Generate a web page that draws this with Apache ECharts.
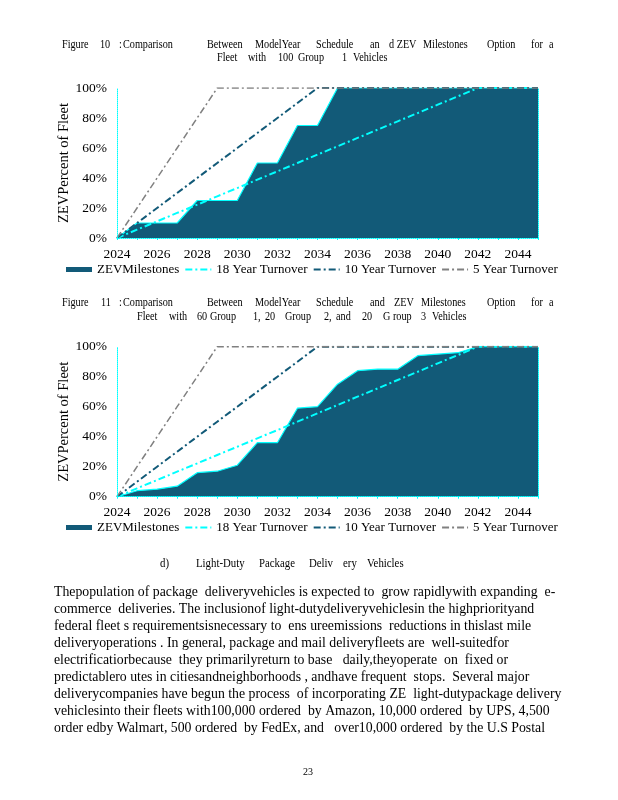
<!DOCTYPE html>
<html><head><meta charset="utf-8">
<script src="https://cdn.jsdelivr.net/npm/echarts@6/dist/echarts.min.js"></script>
<style>html,body{margin:0;padding:0;background:#fff}#c{width:618px;height:800px}</style>
</head><body><div id="c"></div>
<script>
// ---- data ----
const years = ['2024','2025','2026','2027','2028','2029','2030','2031','2032','2033','2034',
               '2035','2036','2037','2038','2039','2040','2041','2042','2043','2044','2045'];
const zevMilestonesFig10 = [0,10,10,10,25,25,25,50,50,75,75,100,100,100,100,100,100,100,100,100,100,100];
const zevMilestonesFig11 = [0,4,5,7,16,17,21,36,36,59,60,75,84,85,85,94,95,96,100,100,100,100];
const turnover18 = [0,5.6,11.1,16.7,22.2,27.8,33.3,38.9,44.4,50,55.6,61.1,66.7,72.2,77.8,83.3,88.9,94.4,100,100,100,100];
const turnover10 = [0,10,20,30,40,50,60,70,80,90,100,100,100,100,100,100,100,100,100,100,100,100];
const turnover5  = [0,20,40,60,80,100,100,100,100,100,100,100,100,100,100,100,100,100,100,100,100,100];
const seriesNames = ['ZEVMilestones','18 Year Turnover','10 Year Turnover','5 Year Turnover'];
const yAxisTitle = 'ZEVPercent of Fleet';

// ---- page text ----
const fig10Line1 = [['Figure',62],['10',100],[':',119],['Comparison',123],['Between',207],['ModelYear',255],['Schedule',316],['an',370],['d ZEV',389],['Milestones',423],['Option',487],['for',531],['a',549]];
const fig10Line2 = [['Fleet',217],['with',248],['100',278],['Group',298],['1',342],['Vehicles',353]];
const fig11Line1 = [['Figure',62],['11',101],[':',119],['Comparison',123],['Between',207],['ModelYear',255],['Schedule',316],['and',370],['ZEV',394],['Milestones',421],['Option',487],['for',531],['a',549]];
const fig11Line2 = [['Fleet',137],['with',169],['60',197],['Group',210],['1,',253],['20',265],['Group',285],['2,',324],['and',336],['20',362],['G roup',383],['3',421],['Vehicles',432]];
const headingWords = [['d)',160],['Light-Duty',196],['Package',259],['Deliv',309],['ery',343],['Vehicles',367]];
const bodyLines = [
 'Thepopulation of package  deliveryvehicles is expected to  grow rapidlywith expanding  e-',
 'commerce  deliveries. The inclusionof light-dutydeliveryvehiclesin the highpriorityand',
 'federal fleet s requirementsisnecessary to  ens ureemissions  reductions in thislast mile',
 'deliveryoperations . In general, package and mail deliveryfleets are  well-suitedfor',
 'electrificatiorbecause  they primarilyreturn to base   daily,theyoperate  on  fixed or',
 'predictablero utes in citiesandneighborhoods , andhave frequent  stops.  Several major',
 'deliverycompanies have begun the process  of incorporating ZE  light-dutypackage delivery',
 'vehiclesinto their fleets with100,000 ordered  by Amazon, 10,000 ordered  by UPS, 4,500',
 'order edby Walmart, 500 ordered  by FedEx, and   over10,000 ordered  by the U.S Postal'
];
const pageNumber = '23';

// ---- styling ----
const FONT = 'Liberation Serif';
const DARK = '#125A78', CYAN = '#00FFFF', GRAY = '#808080';
const DASHDOT = [7,3,2,3];

const chart = echarts.init(document.getElementById('c'), null, {renderer:'canvas'});

function txt(text, x, y, size, sx, align) {
  return {type:'text', x:x, y:y, scaleX:sx,
    style:{text:text, x:0, y:0, fill:'#000', font:size+'px "'+FONT+'"', align:align||'left', verticalAlign:'middle', textAlign:align||'left', textVerticalAlign:'middle'}};
}
function wordTexts(words, y, size, sx) { return words.map(w => txt(w[0], w[1], y, size, sx)); }
const graphics = []
  .concat(wordTexts(fig10Line1, 44.5, 12, 0.85))
  .concat(wordTexts(fig10Line2, 58, 12, 0.85))
  .concat(wordTexts(fig11Line1, 302.5, 12, 0.85))
  .concat(wordTexts(fig11Line2, 316.5, 12, 0.85))
  .concat(wordTexts(headingWords, 563.5, 12, 0.9));
bodyLines.forEach((t,i) => graphics.push(txt(t, 54, 592 + i*17, 14, 0.985)));
graphics.push(txt(pageNumber, 308, 772, 10, 1, 'center'));

const grids = [{left:117, width:421, top:88, height:150}, {left:117, width:421, top:346.7, height:150}];
const legendTops = [263, 521];

const xAxes = [], yAxes = [], series = [], legends = [];
const lineLegendStyle = {color:'rgba(0,0,0,0)', borderColor:'rgba(0,0,0,0)', borderWidth:0, opacity:0};
[zevMilestonesFig10, zevMilestonesFig11].forEach((zev, g) => {
  xAxes.push({type:'category', gridIndex:g, data:years, boundaryGap:false, z:10,
    axisLine:{lineStyle:{color:CYAN, type:'dotted', width:1}},
    axisTick:{show:true, interval:0, length:2, lineStyle:{color:CYAN}},
    axisLabel:{interval:1, color:'#000', fontFamily:FONT, fontSize:13.5, margin:9},
    splitLine:{show:false}});
  yAxes.push({type:'value', gridIndex:g, min:0, max:100, interval:20, z:10,
    name:yAxisTitle, nameLocation:'middle', nameGap:45, nameMoveOverlap:false,
    nameTextStyle:{color:'#000', fontFamily:FONT, fontSize:14.5},
    axisLine:{show:true, lineStyle:{color:CYAN, type:'dotted', width:1}},
    axisTick:{show:false},
    axisLabel:{formatter:'{value}%', color:'#000', fontFamily:FONT, fontSize:13.5, margin:10},
    splitLine:{show:false}});
  yAxes.push({type:'value', gridIndex:g, position:'right', min:0, max:100, z:10,
    axisLine:{show:true, lineStyle:{color:CYAN, type:'dotted', width:1}},
    axisTick:{show:false}, axisLabel:{show:false}, splitLine:{show:false}});
  const yi = g*2;
  series.push({name:seriesNames[0], type:'line', xAxisIndex:g, yAxisIndex:yi, data:zev, symbol:'none',
    itemStyle:{color:DARK}, lineStyle:{color:CYAN, width:1.2}, areaStyle:{color:DARK, opacity:1}, z:2});
  series.push({name:seriesNames[1], type:'line', xAxisIndex:g, yAxisIndex:yi, data:turnover18, symbol:'none',
    itemStyle:{color:CYAN}, lineStyle:{color:CYAN, width:2, type:DASHDOT}, z:3});
  series.push({name:seriesNames[2], type:'line', xAxisIndex:g, yAxisIndex:yi, data:turnover10, symbol:'none',
    itemStyle:{color:DARK}, lineStyle:{color:DARK, width:2, type:DASHDOT}, z:4});
  series.push({name:seriesNames[3], type:'line', xAxisIndex:g, yAxisIndex:yi, data:turnover5, symbol:'none',
    itemStyle:{color:GRAY}, lineStyle:{color:GRAY, width:1.5, type:DASHDOT}, z:5});
  legends.push({left:66, top:legendTops[g], padding:0, itemGap:5, itemWidth:26, itemHeight:5,
    textStyle:{color:'#000', fontFamily:FONT, fontSize:13},
    selectedMode:false,
    data:[{name:seriesNames[0], icon:'rect', itemStyle:{color:DARK, borderWidth:0, opacity:1}},
          {name:seriesNames[1], itemStyle:lineLegendStyle},
          {name:seriesNames[2], itemStyle:lineLegendStyle},
          {name:seriesNames[3], itemStyle:lineLegendStyle}]});
});

chart.setOption({
  animation:false,
  backgroundColor:'#fff',
  grid:grids, xAxis:xAxes, yAxis:yAxes, series:series, legend:legends,
  graphic:graphics
});
</script></body></html>
